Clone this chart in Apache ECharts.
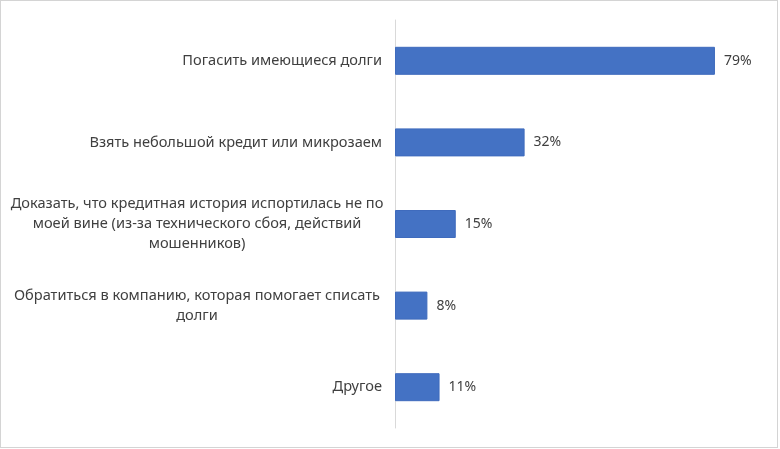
<!DOCTYPE html>
<html>
<head>
<meta charset="utf-8">
<script src="https://cdn.jsdelivr.net/npm/echarts@6/dist/echarts.min.js"></script>
<style>
html,body{margin:0;padding:0;background:#fff;}
#frame{position:absolute;left:0;top:0;width:776px;height:446px;border:1px solid #d4d4d4;}
#chart{position:absolute;left:0;top:0;width:780px;height:449px;}
</style>
</head>
<body>
<div id="frame"></div>
<div id="chart"></div>
<script>
var categories = [
  "Погасить имеющиеся долги",
  "Взять небольшой кредит или микрозаем",
  "Доказать, что кредитная история испортилась не по\nмоей вине (из-за технического сбоя, действий\nмошенников)",
  "Обратиться в компанию, которая помогает списать\nдолги",
  "Другое"
];
var values = [79, 32, 15, 8, 11];

var chart = echarts.init(document.getElementById('chart'));
var FONT = '"Noto Sans", "Liberation Sans", sans-serif';
chart.setOption({
  animation: false,
  grid: {left: 395, right: 20.5, top: 20, bottom: 21, containLabel: false},
  xAxis: {type: 'value', min: 0, max: 90, show: false},
  yAxis: {
    type: 'category',
    inverse: true,
    data: categories,
    axisLine: {show: true, lineStyle: {color: '#d9d9d9', width: 1}},
    axisTick: {show: false},
    axisLabel: {
      margin: 13,
      color: '#404040',
      fontFamily: FONT,
      fontSize: 14.6,
      lineHeight: 20,
      formatter: function (v) {
        if (v.indexOf('\n') < 0) return v;
        return v.split('\n').map(function (s) { return '{c|' + s + '}'; }).join('\n');
      },
      rich: {
        c: {width: 370, align: 'center', color: '#404040', fontFamily: FONT, fontSize: 14.6, lineHeight: 20}
      }
    }
  },
  series: [{
    type: 'bar',
    data: values,
    barWidth: 28,
    itemStyle: {color: '#4472C4', borderColor: '#3f6bbd', borderWidth: 1},
    label: {
      show: true,
      position: 'right',
      distance: 9,
      formatter: '{c}%',
      color: '#404040',
      fontFamily: FONT,
      fontSize: 14
    }
  }]
});
</script>
</body>
</html>
